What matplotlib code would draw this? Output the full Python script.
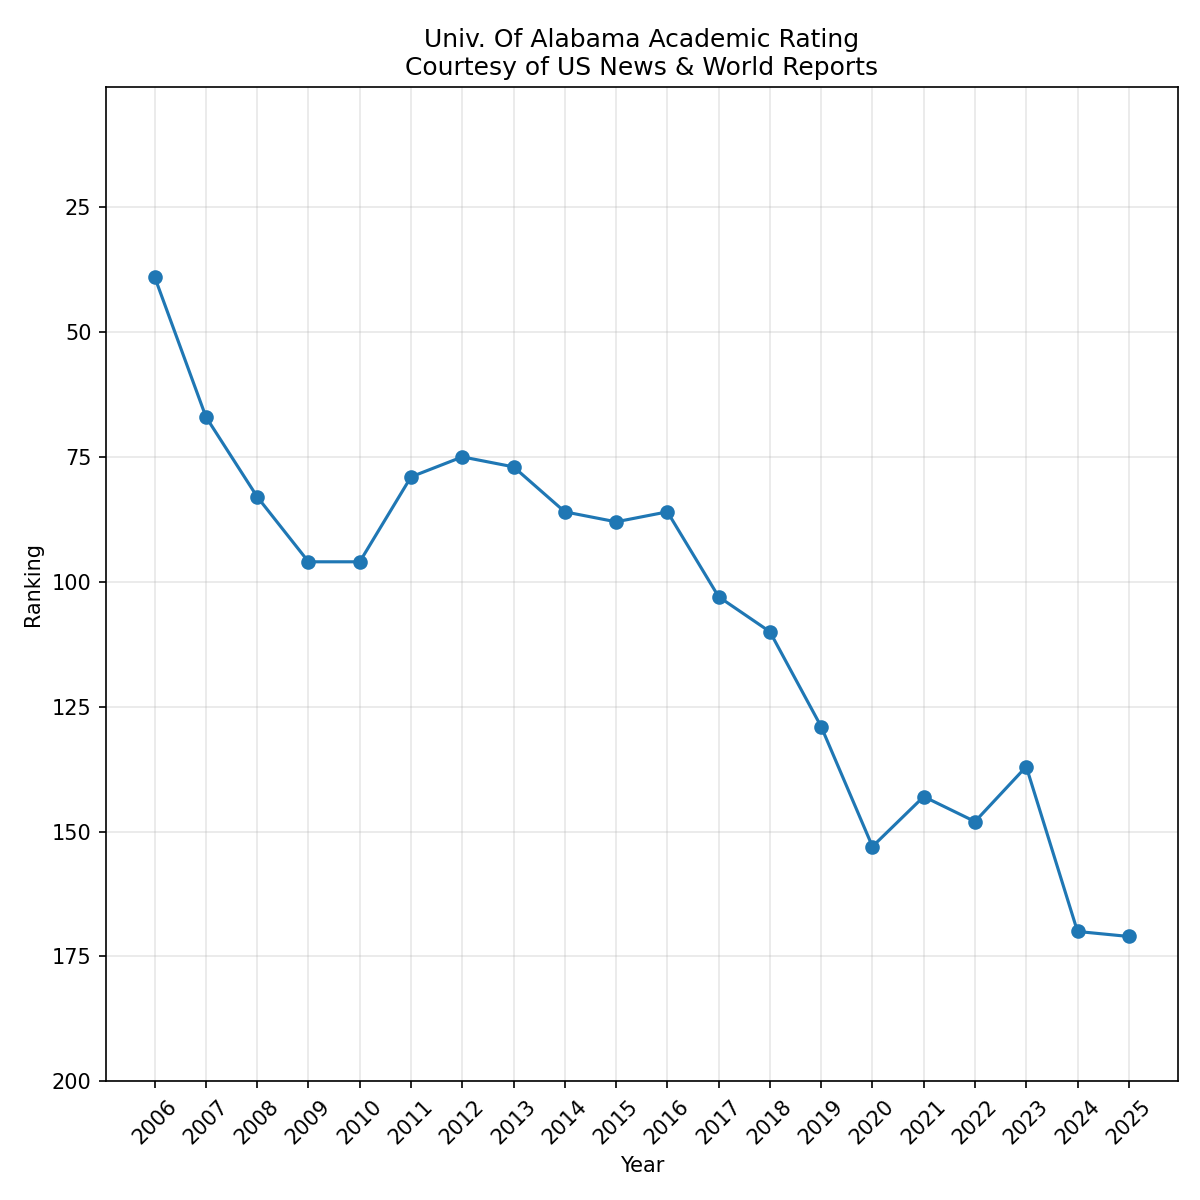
import matplotlib
matplotlib.use("Agg")
import matplotlib.pyplot as plt

years = list(range(2006, 2026))
rankings = [39, 67, 83, 96, 96, 79, 75, 77, 86, 88, 86, 103, 110, 129, 153, 143, 148, 137, 170, 171]

fig, ax = plt.subplots(figsize=(8, 8))
ax.plot(years, rankings, marker="o", color="#1f77b4")
ax.set_ylim(200, 1)
ax.set_yticks([25, 50, 75, 100, 125, 150, 175, 200])
ax.set_xticks(years)
ax.set_xticklabels([str(y) for y in years], rotation=45)
ax.set_xlabel("Year")
ax.set_ylabel("Ranking")
ax.set_title("Univ. Of Alabama Academic Rating\nCourtesy of US News & World Reports")
ax.grid(alpha=0.3)
plt.tight_layout()
plt.savefig("out.png", dpi=150)
